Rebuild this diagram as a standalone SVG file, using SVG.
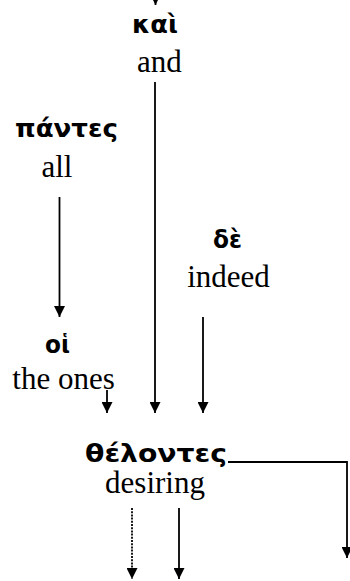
<svg xmlns="http://www.w3.org/2000/svg" width="350" height="581" viewBox="0 0 350 581">
<style>
.gk{font-family:"DejaVu Sans","Noto Sans",sans-serif;font-weight:bold;font-size:25px;fill:#000}
.en{font-family:"Liberation Serif","Times New Roman",serif;font-size:31px;fill:#000}
.ln{stroke:#000;stroke-width:1.8;fill:none}
.dot{stroke-dasharray:2 1.2}
</style>
<defs>
<marker id="ah" markerUnits="userSpaceOnUse" markerWidth="11" markerHeight="11" refX="10" refY="5" orient="auto" viewBox="0 0 10 10">
<path d="M0,0 L10,5 L0,10 z" fill="#000"/>
</marker>
</defs>
<rect width="350" height="581" fill="#fff"/>
<g id="kai">
<text class="gk" x="155" y="33" text-anchor="middle" textLength="46" lengthAdjust="spacingAndGlyphs">καὶ</text>
<text class="en" x="159.5" y="72" text-anchor="middle">and</text>
</g>
<g id="pantes">
<text class="gk" x="66.5" y="137" text-anchor="middle" textLength="103" lengthAdjust="spacingAndGlyphs">πάντες</text>
<text class="en" x="57" y="177" text-anchor="middle">all</text>
</g>
<g id="de">
<text class="gk" x="227.5" y="248" text-anchor="middle" textLength="29" lengthAdjust="spacingAndGlyphs">δὲ</text>
<text class="en" x="228.5" y="287" text-anchor="middle">indeed</text>
</g>
<g id="hoi">
<text class="gk" x="57.5" y="353" text-anchor="middle" textLength="25" lengthAdjust="spacingAndGlyphs">οἱ</text>
<text class="en" x="63.5" y="389" text-anchor="middle">the ones</text>
</g>
<g id="thelontes">
<text class="gk" x="156" y="462" text-anchor="middle" textLength="142" lengthAdjust="spacingAndGlyphs">θέλοντες</text>
<text class="en" x="155" y="493" text-anchor="middle">desiring</text>
</g>
<g id="connectors">
<line class="ln" x1="155.5" y1="-12" x2="155.5" y2="5" marker-end="url(#ah)"/>
<line class="ln" x1="155" y1="82" x2="155" y2="413" marker-end="url(#ah)"/>
<line class="ln" x1="59.5" y1="197" x2="59.5" y2="317" marker-end="url(#ah)"/>
<line class="ln" x1="203" y1="317" x2="203" y2="413" marker-end="url(#ah)"/>
<line class="ln" x1="107" y1="390" x2="107" y2="413" marker-end="url(#ah)"/>
<polyline class="ln" points="228,462 347,462 347,558" marker-end="url(#ah)"/>
<line class="ln dot" x1="132" y1="508" x2="132" y2="579" marker-end="url(#ah)"/>
<line class="ln" x1="179" y1="508" x2="179" y2="579" marker-end="url(#ah)"/>
</g>
</svg>
